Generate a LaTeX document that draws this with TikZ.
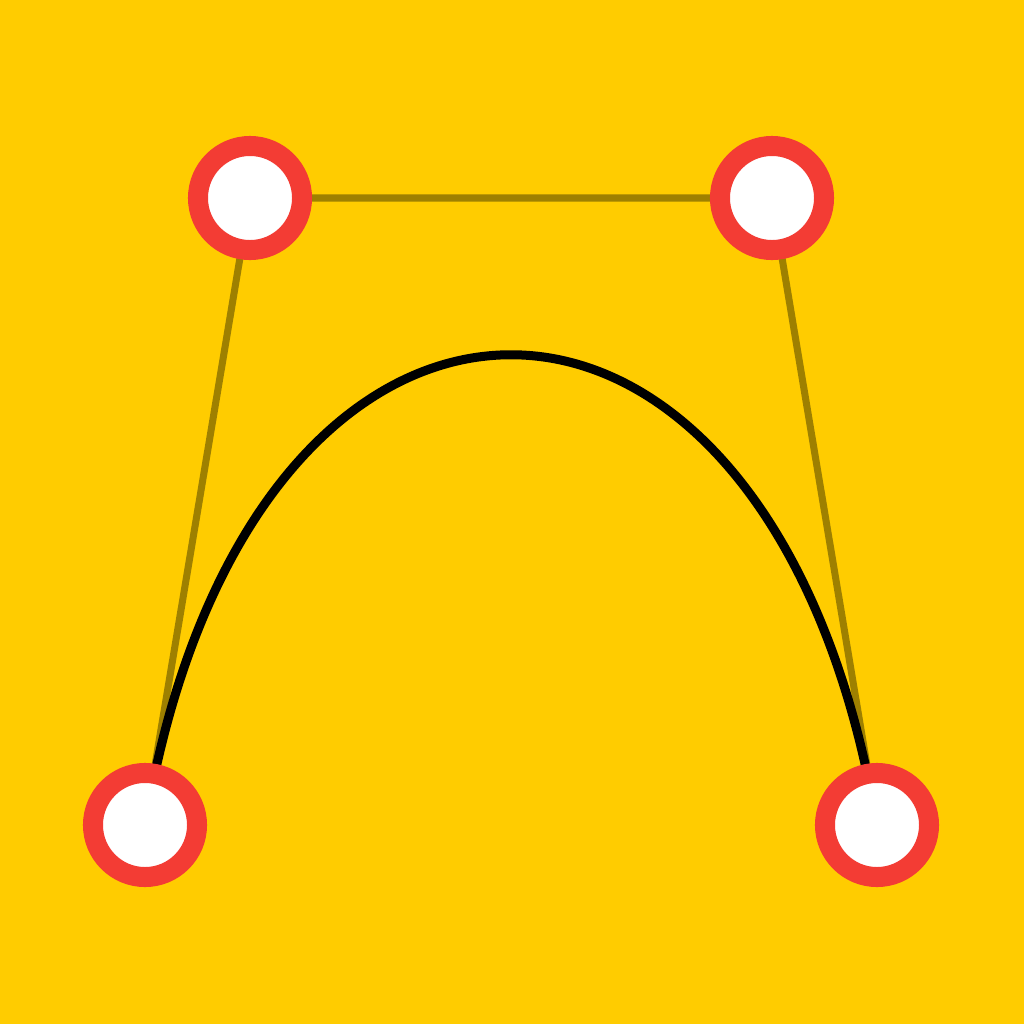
\documentclass[tikz,border=0pt]{standalone}
\definecolor{bgyellow}{RGB}{255,204,0}
\definecolor{ringred}{RGB}{243,60,52}
\definecolor{ctrlline}{RGB}{158,128,0}
\begin{document}
\begin{tikzpicture}[x=0.01cm,y=-0.01cm,
  handle/.style={circle,draw=ringred,fill=white,line width=0.2cm,minimum size=1.04cm,inner sep=0pt},
  ctrl/.style={draw=ctrlline,line width=0.07cm},
  curve/.style={draw=black,line width=0.09cm}]
\fill[bgyellow] (0,0) rectangle (1024,1024);
\useasboundingbox (0,0) rectangle (1024,1024);
\coordinate (p0) at (145,825);
\coordinate (p1) at (250,198);
\coordinate (p2) at (772,198);
\coordinate (p3) at (877,825);
\draw[ctrl] (p0) -- (p1) -- (p2) -- (p3);
\draw[curve] (p0) .. controls (p1) and (p2) .. (p3);
\node[handle] (a) at (p0) {};
\node[handle] (b) at (p1) {};
\node[handle] (c) at (p2) {};
\node[handle] (d) at (p3) {};
\end{tikzpicture}
\end{document}
